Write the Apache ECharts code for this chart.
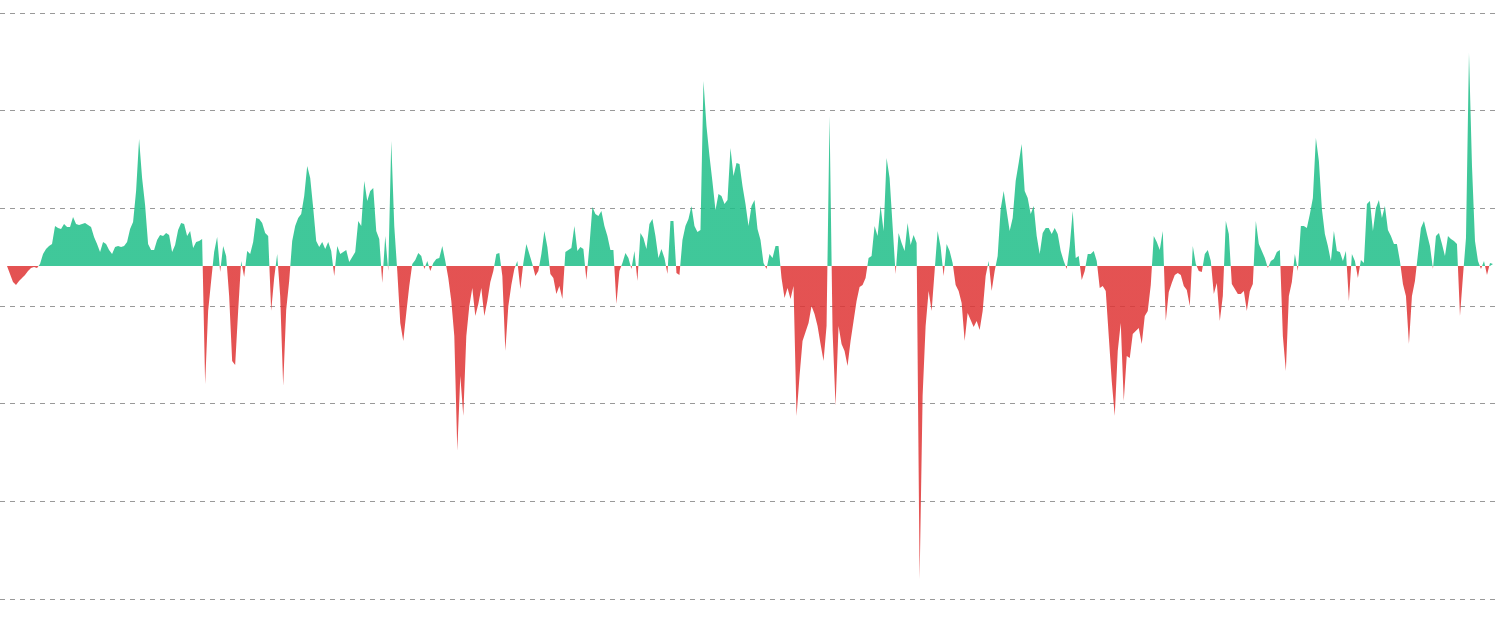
<!DOCTYPE html>
<html>
<head>
<meta charset="utf-8">
<script src="https://cdn.jsdelivr.net/npm/echarts@6/dist/echarts.min.js"></script>
<style>
html,body{margin:0;padding:0;background:#ffffff;}
#chart{width:1500px;height:633px;}
</style>
</head>
<body>
<div id="chart"></div>
<script>
// Values (one sample every ~3 px, units = px above baseline)
var seg1 = [0,-8,-16,-19,-15,-12,-9,-5,-2,-1,
  -2,2,12,17,20,22,40,38,37,42,
  39,39,49,42,41,42,43,41,39,29,
  22,14,24,22,16,12,19,20,19,20,
  24,37,44,75,127,88,61,22,16,16,
  26,31,30,33,31,14,21,36,43,42,
  30,35,18,24,25,27,-118,-45,-15,14,
  29,-6,20,10,-30,-95,-99,-45,5,-11,
  15];
var seg2 = [12,
  24,48,47,43,33,30,-45,-12,12,-30,
  -120,-44,-15,25,40,48,52,70,100,88,
  58,25,19,24,17,24,15,-10,20,12,
  14,16,4,9,14,45,40,85,65,75,
  78,35,27,-17,30,-5,125,40,-5,-57,
  -75,-47,-20,2,6,13,10,-3,5,-5,
  3,7,8,20,5,-12,-35,-70,-185,-110,
  -150,-70,-40,-22,-50,-38,-22,-50,-35,-16,
  -5,12,13];
var seg3 = [-10,-85,-40,-19,-3,5,-23,3,22,12,
  2,-10,-5,12,35,19,-8,-12,-28,-20,
  -33,14,16,18,40,15,19,17,-14,20,
  59,52,50,55,40,30,16,16,-38,-5,
  3,13,8,-3,15,-15,33,28,17,42,
  47,30,8,17,8,-8,45,45,-7,-9,
  26,40,47,60,40,34,36,185,140,110,
  84,56,72,70,62,66,118,90,103,102,
  80,62,40];
var seg4 = [60,66,37,26,3,-3,12,8,20,20,
  -12,-32,-22,-33,-20,-150,-110,-75,-66,-57,
  -40,-48,-60,-78,-95,-60,150,-65,-140,-60,
  -78,-85,-100,-75,-55,-35,-21,-19,-12,8,
  10,40,30,60,35,108,88,40,-8,33,
  23,15,43,21,31,23,-313,-130,-60,-25,
  -45,-5,35,19,-10,22,15,3,-19,-25,
  -37,-75,-47,-54,-61,-55,-64,-45,-10,5,
  -25,-5,10];
var seg5 = [57,75,55,35,48,85,103,122,75,68,
  52,60,30,12,33,38,38,32,38,32,
  15,5,-3,20,55,8,10,-14,-5,12,
  12,15,5,-22,-20,-25,-70,-115,-150,-85,
  -57,-135,-90,-92,-68,-65,-62,-78,-50,-45,
  -19,30,24,16,35,-55,-26,-17,-9,-7,
  -9,-20,-24,-40,20,2,-5,-6,12,16,
  5,-28,-17,-55,-30,45,32,-18,-23,-28,
  -28,-25,-45,-25];
var seg6 = [-18,45,22,15,8,-2,5,7,14,16,
  -70,-105,-30,-16,12,-5,40,40,38,52,
  68,128,105,57,32,20,5,35,15,14,
  5,15,-35,12,5,-12,6,3,62,65,
  35,58,66,48,60,36,30,22,22,5,
  -18,-30,-78,-30,-15,12,38,45,32,20,
  -3,30,33,22,10,30,27,25,22,-50,
  -10,28,213,100,25,5,-3,5,-9,3,
  2];

var values = seg1.concat(seg2, seg3, seg4, seg5, seg6);
var categories = values.map(function (v, i) { return String(i); });
var gridTicks = [0, 1, 2, 3, 4, 5, 6];
var valueMin = -333, valueMax = 253;

var GREEN = '#1ebe88', RED = '#df3434';
var PLOT_TOP = 13, PLOT_BOTTOM_PX = 599;
var zeroOffset = valueMax / (valueMax - valueMin);
var fill = new echarts.graphic.LinearGradient(0, PLOT_TOP, 0, PLOT_BOTTOM_PX, [
  {offset: 0, color: GREEN},
  {offset: zeroOffset, color: GREEN},
  {offset: zeroOffset, color: RED},
  {offset: 1, color: RED}
], true);

var chart = echarts.init(document.getElementById('chart'), null, {renderer: 'canvas'});
chart.setOption({
  animation: false,
  backgroundColor: '#ffffff',
  grid: [
    {left: 0, right: 3, top: PLOT_TOP, bottom: 633 - PLOT_BOTTOM_PX},
    {left: 7, right: 7, top: PLOT_TOP, bottom: 633 - PLOT_BOTTOM_PX}
  ],
  xAxis: [
    {type: 'value', gridIndex: 0, min: 0, max: 1, show: false},
    {type: 'category', gridIndex: 1, data: categories, boundaryGap: false, show: false}
  ],
  yAxis: [
    {type: 'value', gridIndex: 0, min: gridTicks[0], max: gridTicks[gridTicks.length - 1], interval: 1,
     axisLine: {show: false}, axisTick: {show: false}, axisLabel: {show: false},
     splitLine: {show: true, lineStyle: {color: '#999999', type: [5, 5], width: 1}}},
    {type: 'value', gridIndex: 1, min: valueMin, max: valueMax, show: false, splitLine: {show: false}}
  ],
  series: [{
    type: 'line',
    xAxisIndex: 1,
    yAxisIndex: 1,
    data: values,
    showSymbol: false,
    symbol: 'none',
    lineStyle: {width: 0, opacity: 0},
    areaStyle: {color: fill, opacity: 0.85, origin: 0},
    silent: true
  }]
});
</script>
</body>
</html>
